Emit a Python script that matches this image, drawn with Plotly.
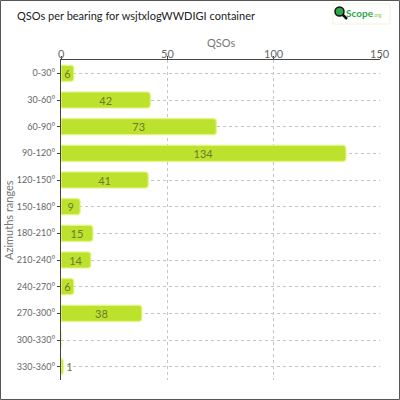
import plotly.graph_objects as go

categories = ["0-30°", "30-60°", "60-90°", "90-120°", "120-150°", "150-180°",
              "180-210°", "210-240°", "240-270°", "270-300°", "300-330°", "330-360°"]
qsos = [6, 42, 73, 134, 41, 9, 15, 14, 6, 38, 0, 1]
x_ticks = [0, 50, 100, 150]

labels = [str(v) if v > 0 else "" for v in qsos]
positions = ["outside" if v < 3 else "inside" for v in qsos]

FONT = "Lato"
L, R, T, B = 61, 20, 60, 20
W, H = 400, 400
pw, ph = W - L - R, H - T - B

fig = go.Figure(go.Bar(
    x=qsos, y=categories, orientation="h",
    marker=dict(color="#bde22e", line=dict(color="#e2f57c", width=1.2), cornerradius=3),
    text=labels, textposition=positions, insidetextanchor="middle", textangle=0,
    textfont=dict(family=FONT, size=11, color="#6b7a2a"),
    insidetextfont=dict(family=FONT, size=11, color="#6b7a2a"),
    outsidetextfont=dict(family=FONT, size=11, color="#6b7a2a"),
    cliponaxis=False, width=0.6,
))

def px(x):
    return (x - L) / pw

def py(y):
    return (H - B - y) / ph

fig.update_layout(
    width=W, height=H,
    margin=dict(l=L, r=R, t=T, b=B, autoexpand=False),
    uniformtext=dict(minsize=10, mode="show"),
    paper_bgcolor="white", plot_bgcolor="white",
    showlegend=False,
    title=dict(text="QSOs per bearing for wsjtxlogWWDIGI container", x=17 / W, xanchor="left",
               y=1 - 16 / H, yanchor="middle", font=dict(family=FONT, size=11, color="#222")),
    xaxis=dict(side="top", range=[0, 150], tickvals=x_ticks, showticklabels=False,
               showgrid=True, gridcolor="#c4c4c4", griddash="3px,3px", gridwidth=1,
               showline=True, linecolor="#444", linewidth=1, ticks="outside", ticklen=3,
               tickcolor="#444", zeroline=False, automargin=False),
    yaxis=dict(categoryorder="array", categoryarray=categories, autorange="reversed",
               showgrid=True, gridcolor="#c4c4c4", griddash="3px,3px", gridwidth=1,
               showline=True, linecolor="#444", linewidth=1, ticks="outside", ticklen=3,
               tickcolor="#444", automargin=False,
               tickfont=dict(family=FONT, size=9, color="#666")),
    bargap=0.4,
)

for t in x_ticks:
    fig.add_annotation(x=t, xref="x", yref="paper", y=py(54), yanchor="middle", xanchor="center",
                       text=str(t), showarrow=False, font=dict(family=FONT, size=11, color="#666"))
fig.add_annotation(x=75, xref="x", yref="paper", y=py(43), yanchor="middle", xanchor="center",
                   text="QSOs", showarrow=False, font=dict(family=FONT, size=11, color="#777"))
fig.add_annotation(x=px(8), xref="paper", yref="paper", y=0.5, yanchor="middle", xanchor="center",
                   text="Azimuths ranges", textangle=-90, showarrow=False,
                   font=dict(family=FONT, size=11, color="#777"))

shapes = [
    dict(type="rect", xref="paper", yref="paper", x0=px(0.5), x1=px(399.5), y0=py(0.5), y1=py(399.5),
         line=dict(color="#555", width=1), fillcolor="rgba(0,0,0,0)", layer="above"),
    # logo box
    dict(type="rect", xref="paper", yref="paper", x0=px(333), x1=px(390), y0=py(4), y1=py(24),
         line=dict(color="#eef3d8", width=1), fillcolor="white"),
    dict(type="line", xref="paper", yref="paper", x0=px(341), x1=px(347), y0=py(13), y1=py(19),
         line=dict(color="#111", width=2.5)),
    dict(type="circle", xref="paper", yref="paper", x0=px(335), x1=px(344), y0=py(7), y1=py(16),
         line=dict(color="#111", width=1.5), fillcolor="#2aa84a"),
]
fig.update_layout(shapes=shapes)

fig.add_annotation(xref="paper", yref="paper", x=px(344), y=py(13), xanchor="left", yanchor="middle",
                   text="<b>Scope</b><span style='font-size:5px;color:#8cc63f'>.org</span>", showarrow=False,
                   font=dict(family=FONT, size=10, color="#2aa84a"))

fig.write_html("out.html", config={"displayModeBar": False},
               post_script="document.body.style.margin='0';document.body.style.padding='0';")
